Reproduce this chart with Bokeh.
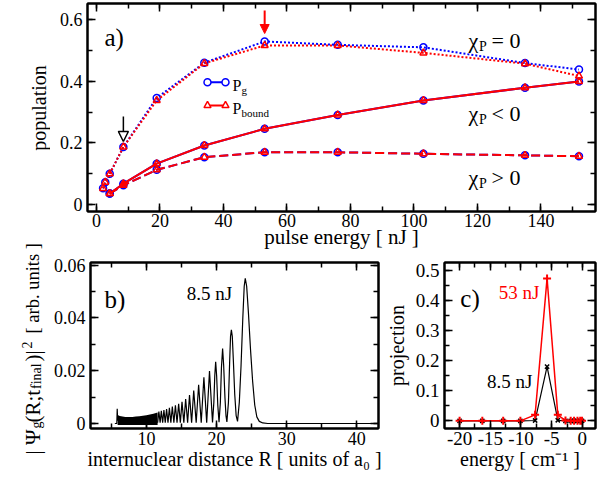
import math
from bokeh.plotting import figure
from bokeh.models import (Range1d, LinearAxis, SingleIntervalTicker, CustomJSTickFormatter,
                          Label, Arrow, NormalHead)
from bokeh.layouts import column, row
from bokeh.embed import file_html
from bokeh.resources import INLINE

FONT = "Liberation Serif"

# ---------------- data: panel a (population vs pulse energy) ----------------
energy_chi0 = [2.1, 2.8, 4.2, 8.5, 19, 34, 53, 76, 103, 135, 152]
pg_chi0 = [0.053, 0.073, 0.100, 0.187, 0.346, 0.460, 0.529, 0.518, 0.510, 0.459, 0.438]
pbound_chi0 = [0.053, 0.073, 0.100, 0.187, 0.338, 0.458, 0.516, 0.516, 0.492, 0.457, 0.417]

energy_chi = [4.2, 8.5, 19, 34, 53, 76, 103, 135, 152]
pg_chi_neg = [0.036, 0.068, 0.133, 0.192, 0.246, 0.291, 0.338, 0.379, 0.399]
pbound_chi_neg = [0.036, 0.068, 0.133, 0.192, 0.246, 0.291, 0.338, 0.379, 0.399]
pg_chi_pos = [0.036, 0.063, 0.113, 0.154, 0.170, 0.170, 0.165, 0.160, 0.157]
pbound_chi_pos = [0.036, 0.063, 0.113, 0.154, 0.170, 0.170, 0.165, 0.160, 0.157]

arrow_black_energy = 8.5
arrow_red_energy = 53

# ---------------- data: panel b (|Psi_g(R)|^2, 8.5 nJ) ----------------
spike_R = [5.5, 5.78, 5.84, 5.9]
spike_psi = [0.0, 0.0, 0.0056, 0.001]

band_R = [5.9, 6.2, 6.6, 7.0, 7.5, 8.0, 8.5, 9.0, 9.5, 10.0, 10.5, 11.0, 11.6]
band_top = [0.0032, 0.0028, 0.0026, 0.0025, 0.0025, 0.0025, 0.0026, 0.0027, 0.0029,
            0.0031, 0.0034, 0.0037, 0.0042]
band_low = [-0.0006, -0.0006, -0.0006, -0.0006, -0.0006, -0.0006, -0.0006, -0.0006,
            -0.0006, -0.0006, -0.0006, -0.0006, -0.0006]

wave_R = [11.6, 11.78, 11.96, 12.13, 12.32, 12.50, 12.69, 12.88, 13.08, 13.28, 13.49, 13.70,
          13.92, 14.14, 14.37, 14.60, 14.84, 15.08, 15.34, 15.60, 15.88, 16.15, 16.45, 16.75,
          17.10, 17.45, 17.82, 18.20, 18.60, 19.00, 19.43, 19.62, 19.75, 19.88, 20.02, 20.18,
          20.36, 20.55, 20.70, 20.87, 21.02, 21.20, 21.35, 21.48, 21.70, 21.88, 22.00, 22.12,
          22.25, 22.40, 22.60, 22.80, 23.00, 23.25, 23.50, 23.75, 23.95, 24.10, 24.30, 24.55,
          24.85, 25.15, 25.45, 25.75, 26.10, 26.60, 27.30, 43.1]
wave_psi = [0.0003, 0.0045, 0.0003, 0.0048, 0.0003, 0.0051, 0.0003, 0.0055, 0.0003, 0.0059,
            0.0003, 0.0064, 0.0003, 0.0069, 0.0003, 0.0075, 0.0003, 0.0082, 0.0003, 0.0093,
            0.0003, 0.0108, 0.0003, 0.0125, 0.0003, 0.0147, 0.0003, 0.0175, 0.0003, 0.0199,
            0.0004, 0.008, 0.018, 0.0234, 0.018, 0.007, 0.0005, 0.008, 0.021, 0.0284, 0.022,
            0.010, 0.003, 0.0006, 0.008, 0.024, 0.033, 0.0355, 0.033, 0.024, 0.011, 0.003,
            0.0008, 0.008, 0.022, 0.040, 0.052, 0.055, 0.052, 0.042, 0.028, 0.016, 0.007,
            0.0025, 0.0008, 0.0002, 0.0, 0.0]

# ---------------- data: panel c (projection on bound levels) ----------------
level_energy = [-20.0, -16.3, -12.9, -10.1, -7.7, -5.75, -4.0, -2.75, -1.9, -1.35, -0.8, -0.35, -0.05]
proj_53nJ = [0.0, 0.0, 0.0, 0.0, 0.02, 0.475, 0.02, 0.001, 0.0, 0.0, 0.0, 0.0, 0.0]
proj_8p5nJ = [0.0, 0.0, 0.0, 0.0, 0.001, 0.181, 0.002, 0.0, 0.0, 0.0, 0.0, 0.0, 0.0]

# ---------------- geometry (picture pixels, layout origin at top-left) ----------------
PA = dict(left=87, width=508, top=3, height=208, x=(-2.8, 157.2), y=(-0.022, 0.652))
PB = dict(left=88, width=290, top=262, height=166, x=(2.03, 43.1), y=(-0.0019, 0.061))
PC = dict(left=442, width=153, top=262, height=166, x=(-22.46, 2.14), y=(-0.0256, 0.528))


def px2x(g, px):
    return g["x"][0] + (px - g["left"]) / g["width"] * (g["x"][1] - g["x"][0])


def py2y(g, py):
    return g["y"][1] - (py - g["top"]) / g["height"] * (g["y"][1] - g["y"][0])


def low_y(g, py_ref):
    # lower panels sit ~2.5 px higher than in the reference
    return py2y(g, py_ref - 2.5)


fmt = CustomJSTickFormatter(code="return String(Number(tick.toFixed(6)));")
blank = CustomJSTickFormatter(code="return '';")


def style_axis(ax):
    ax.axis_line_color = "black"
    ax.axis_line_width = 2
    ax.major_tick_in = 8
    ax.major_tick_out = 0
    ax.minor_tick_in = 5
    ax.minor_tick_out = 0
    ax.major_tick_line_color = "black"
    ax.minor_tick_line_color = "black"
    ax.major_tick_line_width = 1.5
    ax.minor_tick_line_width = 1.5


def setup(p, xint, yint, fs, xlabel=None, ylabel=None, xstand=0, ystand=0, lfs=20, xtick_stand=3):
    p.grid.visible = False
    p.outline_line_color = "black"
    p.outline_line_width = 2
    p.border_fill_color = None
    p.background_fill_color = "white"
    for loc, interval in (("above", xint), ("right", yint)):
        ax = LinearAxis(ticker=SingleIntervalTicker(interval=interval, num_minor_ticks=2),
                        formatter=blank, major_label_text_font_size="1px", major_label_standoff=0)
        style_axis(ax)
        p.add_layout(ax, loc)
    for ax, interval, label, stand, tstand in ((p.below[0], xint, xlabel, xstand, xtick_stand),
                                               (p.left[0], yint, ylabel, ystand, 5)):
        ax.ticker = SingleIntervalTicker(interval=interval, num_minor_ticks=2)
        ax.formatter = fmt
        style_axis(ax)
        ax.major_label_text_font = FONT
        ax.major_label_text_font_size = f"{fs}px"
        ax.major_label_text_color = "black"
        ax.major_label_standoff = tstand
        if label is not None:
            ax.axis_label = label
            ax.axis_label_text_font = FONT
            ax.axis_label_text_font_size = f"{lfs}px"
            ax.axis_label_text_font_style = "normal"
            ax.axis_label_text_color = "black"
            ax.axis_label_standoff = stand


def lab(p, x, y, text, size, color="black", align="left", angle=0.0, baseline="alphabetic"):
    p.add_layout(Label(x=x, y=y, text=text, text_font=FONT, text_font_size=f"{size}px",
                       text_color=color, text_align=align, text_baseline=baseline, angle=angle))


V = math.pi / 2
SW = 50  # width of the left strip that carries the vertical labels

# ================= left strip for the vertical labels (frame = whole canvas, picture px) ======
strip = figure(width=SW, height=473, x_range=Range1d(0, SW), y_range=Range1d(473, 0),
               x_axis_type=None, y_axis_type=None, output_backend="svg", toolbar_location=None,
               min_border_left=0, min_border_right=0, min_border_top=0, min_border_bottom=0)
strip.grid.visible = False
strip.outline_line_color = None
strip.background_fill_color = None
strip.border_fill_color = None
lab(strip, 38, 107.5, "population", 20, align="center", angle=V)
lab(strip, 32, 454, "| \u03a8", 21, angle=V)
lab(strip, 36, 428, "g", 14, angle=V)
lab(strip, 32, 422, "(R;t", 21, angle=V)
lab(strip, 36, 388.5, "final", 14, angle=V)
lab(strip, 32, 361, ")|", 21, angle=V)
lab(strip, 26, 348, "2", 14, angle=V)
lab(strip, 32, 333, "[ arb. units ]", 18.5, angle=V)

# ================= panel a =================
pa = figure(width=597 - SW, height=252, x_range=Range1d(*PA["x"]), y_range=Range1d(*PA["y"]),
            output_backend="svg", toolbar_location=None,
            min_border_left=PA["left"] - SW, min_border_right=2, min_border_top=3, min_border_bottom=41)
setup(pa, 20, 0.2, 18, xlabel="pulse energy [ nJ ]", xstand=-5, lfs=21, xtick_stand=2)

BLUE, RED = "#0000ff", "#ff0000"
for xs, ys, dash in ((energy_chi0, pg_chi0, "2 2"), (energy_chi, pg_chi_neg, "solid"),
                     (energy_chi, pg_chi_pos, "9 4")):
    pa.line(xs, ys, line_color=BLUE, line_width=2, line_dash=dash)
    pa.scatter(xs, ys, marker="circle", size=7, line_color=BLUE, fill_color=None, line_width=1.5)
for xs, ys, dash in ((energy_chi0, pbound_chi0, "2 2"), (energy_chi, pbound_chi_neg, "solid"),
                     (energy_chi, pbound_chi_pos, "9 4")):
    pa.line(xs, ys, line_color=RED, line_width=2, line_dash=dash)
    pa.scatter(xs, ys, marker="triangle", size=7, line_color=RED, fill_color=None, line_width=1.5)

# legend keys
lx = [px2x(PA, 207), px2x(PA, 225)]
ly_g = py2y(PA, 81.7)
ly_b = py2y(PA, 105)
pa.line(lx, [ly_g, ly_g], line_color=BLUE, line_width=2)
pa.scatter(lx, [ly_g, ly_g], marker="circle", size=7, line_color=BLUE, fill_color="white", line_width=1.5)
pa.line(lx, [ly_b, ly_b], line_color=RED, line_width=2)
pa.scatter(lx, [ly_b, ly_b], marker="triangle", size=7, line_color=RED, fill_color="white", line_width=1.5)
lab(pa, px2x(PA, 232), py2y(PA, 85), "P", 16)
lab(pa, px2x(PA, 241), py2y(PA, 89.5), "g", 11)
lab(pa, px2x(PA, 232), py2y(PA, 108), "P", 16)
lab(pa, px2x(PA, 241), py2y(PA, 112.5), "bound", 11)

# arrows
pa.add_layout(Arrow(end=NormalHead(size=10, fill_color="white", line_color="black", line_width=1.5),
                    x_start=arrow_black_energy, y_start=py2y(PA, 116),
                    x_end=arrow_black_energy, y_end=py2y(PA, 141),
                    line_color="black", line_width=1.5))
pa.add_layout(Arrow(end=NormalHead(size=9, fill_color=RED, line_color=RED, line_width=1),
                    x_start=arrow_red_energy, y_start=py2y(PA, 10),
                    x_end=arrow_red_energy, y_end=py2y(PA, 33),
                    line_color=RED, line_width=2))

lab(pa, px2x(PA, 104), py2y(PA, 37), "a)", 25)
for base, rel in ((40, "= 0"), (112.7, "< 0"), (176.7, "> 0")):
    lab(pa, px2x(PA, 468), py2y(PA, base), "\u03c7", 22)
    lab(pa, px2x(PA, 478.5), py2y(PA, base + 6), "P", 14)
    lab(pa, px2x(PA, 491), py2y(PA, base), rel, 22)

# ================= panel b =================
pb = figure(width=382 - SW, height=221, x_range=Range1d(*PB["x"]), y_range=Range1d(*PB["y"]),
            output_backend="svg", toolbar_location=None,
            min_border_left=PB["left"] - SW, min_border_right=4, min_border_top=10, min_border_bottom=45)
setup(pb, 10, 0.02, 18, xlabel="internuclear distance R [ units of a\u2080 ]", xstand=0, lfs=20)
pb.varea(x=band_R, y1=band_low, y2=band_top, fill_color="black")
pb.line(spike_R, spike_psi, line_color="black", line_width=1.2)
pb.line(wave_R, wave_psi, line_color="black", line_width=1.2)

lab(pb, px2x(PB, 102), low_y(PB, 301.5), "b)", 25)
lab(pb, px2x(PB, 185), low_y(PB, 295), "8.5 nJ", 19)

# ================= panel c =================
pc = figure(width=215, height=221, x_range=Range1d(*PC["x"]), y_range=Range1d(*PC["y"]),
            output_backend="svg", toolbar_location=None,
            min_border_left=60, min_border_right=2, min_border_top=10, min_border_bottom=45)
setup(pc, 5, 0.1, 19, xlabel="energy [ cm\u207b\u00b9 ]", ylabel="projection", xstand=0, ystand=5, lfs=20)
pc.line(level_energy, proj_8p5nJ, line_color="black", line_width=1.2)
pc.scatter(level_energy, proj_8p5nJ, marker="x", size=6, line_color="black", line_width=1.5)
pc.line(level_energy, proj_53nJ, line_color=RED, line_width=1.5)
pc.scatter(level_energy, proj_53nJ, marker="cross", size=8, line_color=RED, line_width=2)

lab(pc, px2x(PC, 458), low_y(PC, 300), "c)", 25)
lab(pc, px2x(PC, 497), low_y(PC, 294), "53 nJ", 19, color=RED)
lab(pc, px2x(PC, 485), low_y(PC, 383), "8.5 nJ", 19)

layout = row(strip, column(pa, row(pb, pc)))

with open("out.html", "w") as f:
    f.write(file_html(layout, INLINE))
